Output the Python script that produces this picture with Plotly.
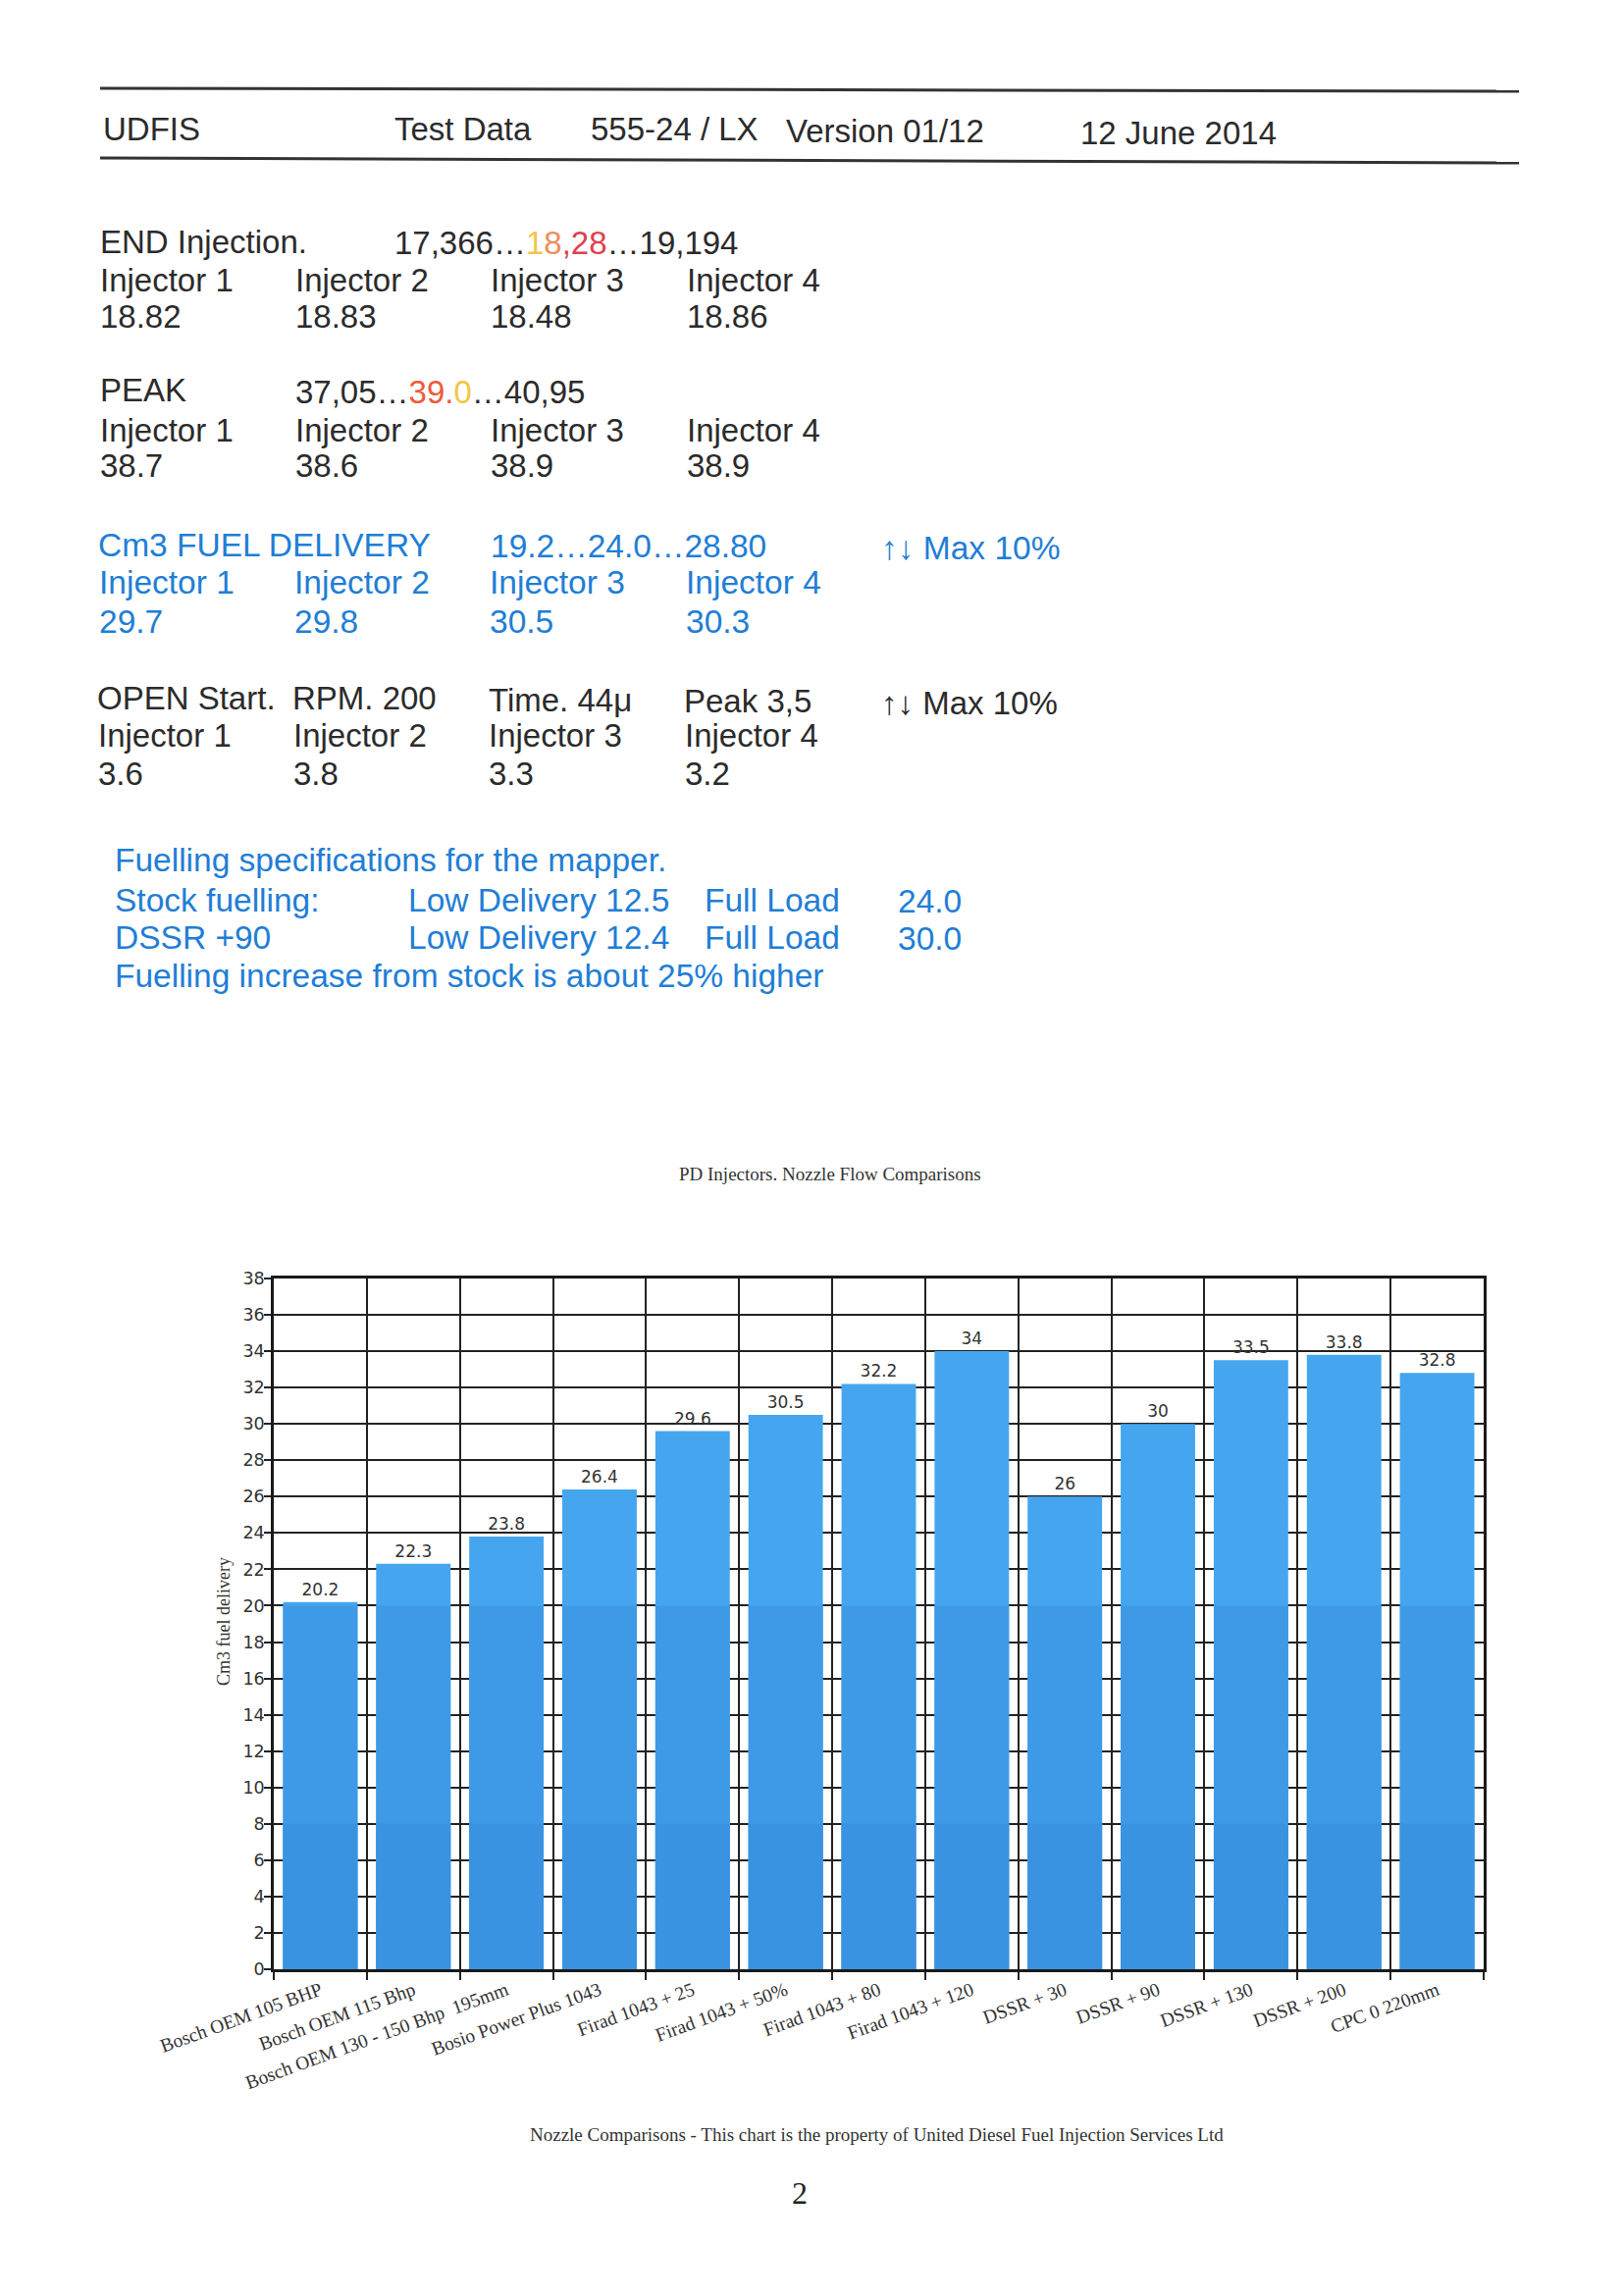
import plotly.graph_objects as go

# ---------------- data ----------------
categories = [
    "Bosch OEM 105 BHP", "Bosch OEM 115 Bhp", "Bosch OEM 130 - 150 Bhp  195mm",
    "Bosio Power Plus 1043", "Firad 1043 + 25", "Firad 1043 + 50%", "Firad 1043 + 80",
    "Firad 1043 + 120", "DSSR + 30", "DSSR + 90", "DSSR + 130", "DSSR + 200", "CPC 0 220mm",
]
flow_values = [20.2, 22.3, 23.8, 26.4, 29.6, 30.5, 32.2, 34, 26, 30, 33.5, 33.8, 32.8]
y_ticks = list(range(0, 39, 2))

end_injection = ["18.82", "18.83", "18.48", "18.86"]
peak_values = ["38.7", "38.6", "38.9", "38.9"]
fuel_delivery = ["29.7", "29.8", "30.5", "30.3"]
open_start = ["3.6", "3.8", "3.3", "3.2"]
injector_names = ["Injector 1", "Injector 2", "Injector 3", "Injector 4"]

# ---------------- layout geometry ----------------
PW, PH = 1654, 2340
L, R, T, B = 279, 1512, 1303, 2007
W, H = R - L, B - T


def px(x):
    return (x - L) / W


def py(y):
    return (B - y) / H


DARK = "#2b2b2b"
BLUE = "#1f7ed6"
SANS = "Liberation Sans, Arial, sans-serif"
SERIF = "Liberation Serif, Times New Roman, serif"
VERD = "DejaVu Sans, Verdana, sans-serif"
FS = 33
FB = 33.5

fig = go.Figure()

fig.add_trace(go.Bar(
    x=categories, y=flow_values, marker=dict(color="#45a6ef", line=dict(width=0)),
    texttemplate="%{y}", textposition="outside",
    textfont=dict(family=VERD, size=17, color="#333333"),
    cliponaxis=False, hoverinfo="x+y",
))
fig.add_trace(go.Bar(
    x=categories, y=[min(v, 20) for v in flow_values],
    marker=dict(color="#3e9ae6", line=dict(width=0)), hoverinfo="skip",
))
fig.add_trace(go.Bar(
    x=categories, y=[min(v, 8) for v in flow_values],
    marker=dict(color="#3a93e0", line=dict(width=0)), hoverinfo="skip",
))

annotations = []


def txt(x, y, text, color=DARK, size=FS, family=SANS, xanchor="left", angle=0):
    annotations.append(dict(
        x=px(x), y=py(y), xref="paper", yref="paper", text=text,
        showarrow=False, xanchor=xanchor, yanchor="middle", textangle=angle,
        font=dict(family=family, size=size, color=color),
    ))


# header
txt(103, 131, "UDFIS")
txt(400, 131, "Test Data")
txt(600, 132, "555-24 / LX")
txt(799, 133, "Version 01/12")
txt(1099, 135, "12 June 2014")

cols = [100, 299, 498, 698]

# END injection
txt(100, 246, "END Injection.")
txt(400, 247, "17,366…<span style='color:#f3c64a'>1</span><span style='color:#ee8d5c'>8</span>"
              "<span style='color:#e0404f'>,28</span>…19,194")
for c, n, v in zip(cols, injector_names, end_injection):
    txt(c, 285, n)
    txt(c, 322, v)

# PEAK
txt(100, 398, "PEAK")
txt(299, 399, "37,05…<span style='color:#ef5a3a'>39.</span><span style='color:#f3c644'>0</span>…40,95")
for c, n, v in zip(cols, injector_names, peak_values):
    txt(c, 438, n)
    txt(c, 475, v)

# Cm3 fuel delivery
txt(98, 555, "Cm3 FUEL DELIVERY", color=BLUE, size=FB)
txt(498, 556, "19.2…24.0…28.80", color=BLUE, size=FB)
txt(896, 558, "↑↓ Max 10%", color=BLUE, size=FB)
for c, n, v in zip(cols, injector_names, fuel_delivery):
    txt(c - 1, 594, n, color=BLUE, size=FB)
    txt(c - 1, 633, v, color=BLUE, size=FB)

# OPEN start
txt(97, 712, "OPEN Start.")
txt(296, 712, "RPM. 200")
txt(496, 713, "Time. 44μ")
txt(695, 714, "Peak 3,5")
txt(896, 716, "↑↓ Max 10%")
for c, n, v in zip(cols, injector_names, open_start):
    txt(c - 2, 749, n)
    txt(c - 2, 788, v)

# Fuelling specs
txt(115, 876, "Fuelling specifications for the mapper.", color=BLUE, size=FB)
txt(115, 917, "Stock fuelling:", color=BLUE, size=FB)
txt(414, 917, "Low Delivery 12.5", color=BLUE, size=FB)
txt(716, 917, "Full Load", color=BLUE, size=FB)
txt(913, 918, "24.0", color=BLUE, size=FB)
txt(115, 955, "DSSR +90", color=BLUE, size=FB)
txt(414, 955, "Low Delivery 12.4", color=BLUE, size=FB)
txt(716, 955, "Full Load", color=BLUE, size=FB)
txt(913, 956, "30.0", color=BLUE, size=FB)
txt(115, 994, "Fuelling increase from stock is about 25% higher", color=BLUE, size=FB)

# chart texts
txt(846, 1196, "PD Injectors. Nozzle Flow Comparisons", color="#333333", size=19,
    family=SERIF, xanchor="center")
txt(228, 1653, "Cm3 fuel delivery", color="#333333", size=18, family=SERIF,
    xanchor="center", angle=-90)
txt(893, 2175, "Nozzle Comparisons - This chart is the property of United Diesel Fuel Injection Services Ltd",
    color="#333333", size=19, family=SERIF, xanchor="center")
txt(815, 2235, "2", color="#222222", size=32, family=SERIF, xanchor="center")

shapes = [
    dict(type="line", xref="paper", yref="paper", x0=px(102), x1=px(1548),
         y0=py(90), y1=py(93), line=dict(color="#333333", width=3)),
    dict(type="line", xref="paper", yref="paper", x0=px(102), x1=px(1548),
         y0=py(161), y1=py(166), line=dict(color="#333333", width=3)),
]

fig.update_layout(
    width=PW, height=PH,
    margin=dict(l=L, r=PW - R, t=T, b=PH - B, pad=0),
    paper_bgcolor="white", plot_bgcolor="white",
    barmode="overlay", bargap=0.2, showlegend=False,
    annotations=annotations, shapes=shapes,
    xaxis=dict(
        type="category", tickson="boundaries", ticks="outside", ticklen=8,
        tickcolor="#222222", tickwidth=1.5, tickangle=-20,
        tickfont=dict(family=SERIF, size=19.5, color="#333333"),
        showgrid=True, gridcolor="#222222", gridwidth=1.5,
        showline=True, linecolor="#1a1a1a", linewidth=2.5, mirror=True,
        range=[-0.5, len(categories) - 0.5], fixedrange=True,
    ),
    yaxis=dict(
        range=[0, 38], tickvals=y_ticks, ticks="outside", ticklen=7,
        tickcolor="#222222", tickwidth=1.5, ticklabelstandoff=-4,
        tickfont=dict(family=VERD, size=17.5, color="#333333"),
        showgrid=True, gridcolor="#222222", gridwidth=1.5,
        showline=True, linecolor="#1a1a1a", linewidth=2.5, mirror=True,
        zeroline=False, fixedrange=True,
    ),
)

fig.write_html("out.html")
